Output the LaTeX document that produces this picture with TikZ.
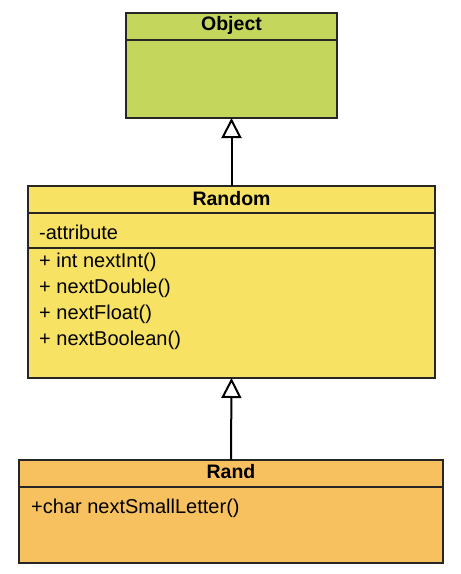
\documentclass[tikz,border=0pt]{standalone}
\usepackage{fontspec}
\setmainfont{Liberation Sans}
\usetikzlibrary{arrows.meta}
\definecolor{objgreen}{HTML}{C4D75C}
\definecolor{rndyellow}{HTML}{F7E264}
\definecolor{rndorange}{HTML}{F7C15F}
\definecolor{edgec}{HTML}{262626}
\begin{document}
\begin{tikzpicture}[x=1pt,y=-1pt,
  classbox/.style={draw=edgec, line width=1.8pt, rectangle, inner sep=0pt, outer sep=0pt, anchor=north west},
  divider/.style={draw=edgec, line width=1.8pt},
  classtitle/.style={font=\fontsize{19.5}{23}\selectfont\bfseries, inner sep=0pt},
  member/.style={font=\fontsize{20}{24}\selectfont, inner sep=0pt, anchor=west},
  inh/.style={draw=black, line width=2pt, -{Triangle[open, length=20pt, width=20pt, fill=white]}}
]
\useasboundingbox (0,0) rectangle (461,574);
% Object
\node[classbox, fill=objgreen, minimum width=211pt, minimum height=105pt] (object) at (126,13) {};
\draw[divider] (object.north west) ++(0,27) -- ++(211,0);
\node[classtitle] (objtitle) at (231.5,25.5) {Object};
% Random
\node[classbox, fill=rndyellow, minimum width=407pt, minimum height=192pt] (random) at (28,186) {};
\draw[divider] (random.north west) ++(0,27) -- ++(407,0);
\draw[divider] (random.north west) ++(0,62) -- ++(407,0);
\node[classtitle] (rndtitle) at (231.5,198.5) {Random};
\node[member] (attr) at (39,232) {-attribute};
\node[member] (m1) at (39,262) {+ int nextInt()};
\node[member] (m2) at (39,288) {+ nextDouble()};
\node[member] (m3) at (39,314) {+ nextFloat()};
\node[member] (m4) at (39,340) {+ nextBoolean()};
% Rand
\node[classbox, fill=rndorange, minimum width=424pt, minimum height=103pt] (rand) at (19,460) {};
\draw[divider] (rand.north west) ++(0,27) -- ++(424,0);
\node[classtitle] (randtitle) at (231,472) {Rand};
\node[member] (r1) at (31,508) {+char nextSmallLetter()};
% Inheritance
\draw[inh] (random.north) -- (object.south);
\draw[inh] (rand.north) -- (random.south);
\end{tikzpicture}
\end{document}
